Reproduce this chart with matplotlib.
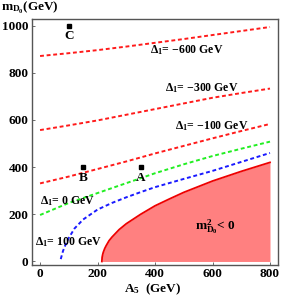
import matplotlib
matplotlib.use("Agg")
import matplotlib.pyplot as plt

plt.rcParams['font.family'] = ['Liberation Serif', 'DejaVu Serif']
plt.rcParams['font.weight'] = 'bold'
plt.rcParams['mathtext.fontset'] = 'custom'
plt.rcParams['mathtext.rm'] = 'Liberation Serif:bold'
plt.rcParams['mathtext.it'] = 'Liberation Serif:bold'
plt.rcParams['mathtext.bf'] = 'Liberation Serif:bold'

# curves (A5, m_D0) in GeV
a5 = [0, 100, 200, 300, 400, 500, 600, 700, 800]
m_d600 = [871, 883, 896, 911, 927, 943, 960, 977, 994]
m_d300 = [557, 577, 598, 622, 646, 670, 694, 714, 733]
m_d100 = [331, 360, 392, 424, 458, 490, 522, 553, 583]
m_d0 = [197, 248, 290, 332, 374, 412, 447, 478, 508]

a5_blue = [72, 80, 90, 100, 120, 150, 200, 250, 300, 350, 400, 500, 600, 700, 800]
m_blue = [10, 45, 75, 100, 140, 178, 220, 248, 272, 294, 315, 350, 384, 422, 460]

a5_neg = [215, 216, 218, 220, 225, 230, 240, 250, 275, 300, 350, 400, 450, 500, 600, 700, 800]
m_neg = [0, 18, 30, 39, 55, 67, 88, 103, 135, 160, 200, 236, 265, 293, 341, 382, 420]

pts_x = [100, 150, 350]
pts_y = [1000, 400, 400]
pts_lab = ['C', 'B', 'A']

fig = plt.figure(figsize=(2.84, 2.99), dpi=100)
ax = fig.add_axes([0.1127, 0.1137, 0.8663, 0.8228])

dash = (0, (2.0, 1.4))
ax.fill_between(a5_neg, 0, m_neg, color='#ff8080', lw=0)
ax.plot(a5_neg, m_neg, color='#ee0000', lw=1.3)
ax.plot(a5, m_d600, color='#ff1a1a', ls=dash, lw=1.4)
ax.plot(a5, m_d300, color='#ff1a1a', ls=dash, lw=1.4)
ax.plot(a5, m_d100, color='#ff1a1a', ls=dash, lw=1.4)
ax.plot(a5, m_d0, color='#22ee22', ls=dash, lw=1.4)
ax.plot(a5_blue, m_blue, color='#1a1aff', ls=dash, lw=1.4)

ax.plot(pts_x, pts_y, 's', color='black', ms=3)
for x, y, s in zip(pts_x, pts_y, pts_lab):
    ax.text(x, y - 45, s, ha='center', va='center', fontsize=9.5)

fs = 8.5
ax.text(512, 897, r'$\Delta_1$= $-$600 GeV', ha='center', va='center', fontsize=fs)
ax.text(563, 735, r'$\Delta_1$= $-$300 GeV', ha='center', va='center', fontsize=fs)
ax.text(598, 574, r'$\Delta_1$= $-$100 GeV', ha='center', va='center', fontsize=fs)
ax.text(94, 258, r'$\Delta_1$= 0 GeV', ha='center', va='center', fontsize=fs)
ax.text(100, 84, r'$\Delta_1$= 100 GeV', ha='center', va='center', fontsize=fs)
ax.text(609, 147, r'$\mathrm{m}^2_{\mathrm{D}_0}$< 0', ha='center', va='center', fontsize=fs + 1)

ax.set_xlim(-28, 828)
ax.set_ylim(-15, 1028)
ax.set_xticks([0, 200, 400, 600, 800])
ax.set_yticks([0, 200, 400, 600, 800, 1000])
ax.tick_params(direction='in', length=2, width=0.6, labelsize=9.5, color='#555555', pad=2.5)
for sp in ax.spines.values():
    sp.set_color('#555555')
    sp.set_linewidth(1.0)

fig.text(0.005, 0.975, r'$\mathrm{m}_{\mathrm{D}_0}$(GeV)', ha='left', va='center', fontsize=9.5)
fig.text(0.537, 0.032, r'$\mathrm{A}_5$  (GeV)', ha='center', va='center', fontsize=9.5)

fig.savefig('out.png', dpi=100)
